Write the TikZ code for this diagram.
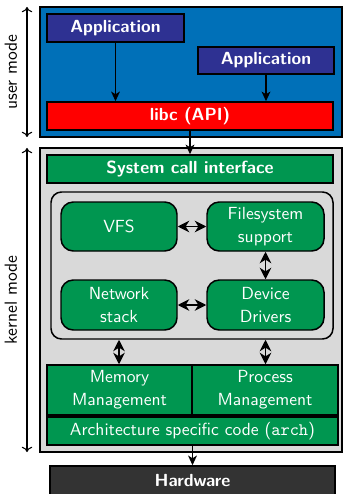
\documentclass[tikz,border=0pt]{standalone}
\usetikzlibrary{arrows.meta}
\definecolor{userblue}{RGB}{0,112,184}
\definecolor{appblue}{RGB}{46,49,146}
\definecolor{kgreen}{RGB}{0,150,80}
\definecolor{kgray}{RGB}{217,217,217}
\definecolor{hwgray}{RGB}{51,51,51}
\newcommand\txtfont{\sffamily\fontsize{10}{13.1}\selectfont}
\tikzset{
  blk/.style={draw=black, line width=0.85pt, inner sep=0pt, font=\txtfont, align=center},
  boldblk/.style={blk, text=white, font=\txtfont\bfseries},
  greenblk/.style={blk, fill=kgreen, text=white},
  roundblk/.style={greenblk, rounded corners=7pt},
  flow/.style={-{Stealth[length=5.5pt,width=5pt,inset=1.5pt]}, line width=0.8pt},
  twoway/.style={{Stealth[length=6.5pt,width=6.5pt,inset=2pt]}-{Stealth[length=6.5pt,width=6.5pt,inset=2pt]}, line width=1.1pt},
  modearrow/.style={{To[length=3pt,width=6pt]}-{To[length=3pt,width=6pt]}, line width=0.6pt},
}
% box from corner (#2,#3) to corner (#4,#5), in picture units of 0.57pt
\newcommand\placebox[7]{%
  \node[#6, minimum width={(#4-#2)*0.57pt}, minimum height={(#5-#3)*0.57pt}]
    (#1) at ({(#2+#4)/2},{(#3+#5)/2}) {#7};}
\begin{document}
\begin{tikzpicture}[x=0.57pt,y=-0.57pt]
\useasboundingbox (0,0) rectangle (343,494);
% user space
\placebox{user}{40}{7}{342}{137}{blk, fill=userblue}{}
\placebox{app1}{47}{14}{184}{42}{boldblk, fill=appblue}{Application}
\placebox{app2}{198}{47}{334}{74}{boldblk, fill=appblue}{Application}
\placebox{libc}{47}{102}{333}{130}{boldblk, fill=red}{libc (API)}
% kernel space
\placebox{kernel}{40}{148}{342}{452}{blk, fill=kgray}{}
\placebox{sci}{47}{155}{333}{183}{boldblk, fill=kgreen}{System call interface}
\placebox{core}{51}{192}{333}{339}{blk, fill=kgray, rounded corners=6pt}{}
\placebox{vfs}{61}{202}{177}{251}{roundblk}{VFS}
\placebox{fs}{207}{202}{324}{251}{roundblk}{Filesystem\\support}
\placebox{net}{61}{280}{177}{330}{roundblk}{Network\\stack}
\placebox{dev}{207}{280}{324}{330}{roundblk}{Device\\Drivers}
\placebox{mem}{47}{365}{192}{415}{greenblk}{Memory\\Management}
\placebox{proc}{192}{365}{338}{415}{greenblk}{Process\\Management}
\placebox{arch}{47}{417}{338}{445}{greenblk}{Architecture specific code (\texttt{arch})}
\placebox{hw}{50}{466}{335}{498}{boldblk, fill=hwgray}{\raisebox{2pt}{Hardware}}
% connectors
\draw[flow] (app1.south) -- (app1.south |- libc.north);
\draw[flow] (app2.south) -- (app2.south |- libc.north);
\draw[flow] (libc.south) -- (libc.south |- sci.north);
\draw[twoway] (vfs.east) -- (fs.west);
\draw[twoway] (net.east) -- (dev.west);
\draw[twoway] (fs.south) -- (dev.north);
\draw[twoway] (core.south -| net.south) -- (net.south |- mem.north);
\draw[twoway] (core.south -| dev.south) -- (dev.south |- proc.north);
\draw[flow] (arch.south) -- (arch.south |- hw.north);
% privilege levels
\coordinate (ut) at (27,7);
\coordinate (ub) at (27,137);
\coordinate (kt) at (27,148);
\coordinate (kb) at (27,452);
\draw[modearrow] (ut) -- (ub) node[midway, rotate=90, anchor=south, yshift=2pt, font=\txtfont] (ulab) {user mode};
\draw[modearrow] (kt) -- (kb) node[midway, rotate=90, anchor=south, yshift=2pt, font=\txtfont] (klab) {kernel mode};
\end{tikzpicture}
\end{document}
